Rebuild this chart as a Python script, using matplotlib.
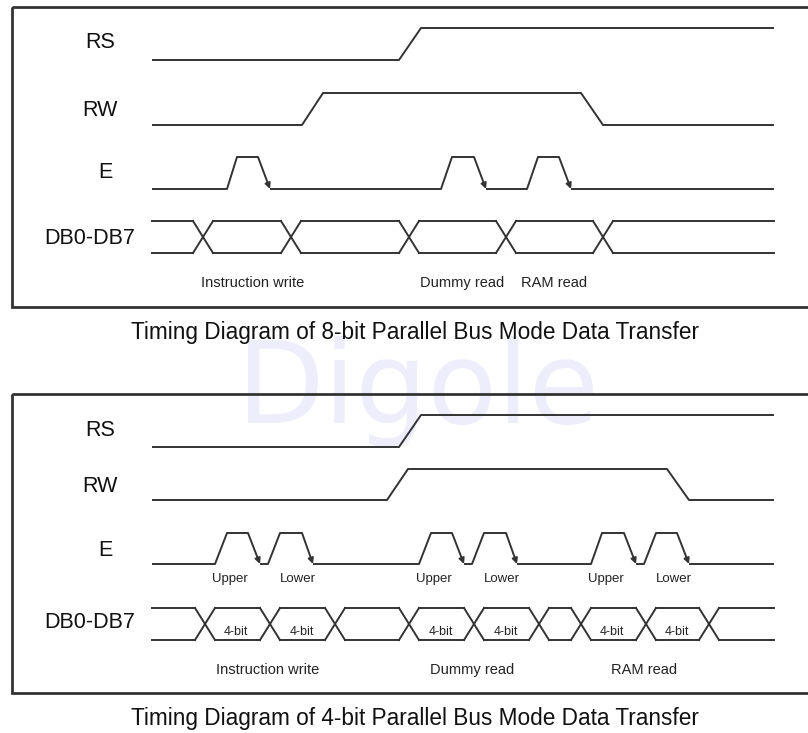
import matplotlib
matplotlib.use("Agg")
import matplotlib.pyplot as plt
from matplotlib.patches import Rectangle

plt.rcParams['font.family'] = ['Liberation Sans', 'DejaVu Sans']

# signal names
signals = ['RS', 'RW', 'E', 'DB0-DB7']

# 8-bit mode: edges as (start, end) of each transition
rs_8bit = [(399, 421)]
rw_8bit = [(302, 323), (581, 603)]
e_8bit = [(227, 237), (258, 270), (441, 452), (474, 486), (527, 538), (559, 571)]
db_8bit = [203, 291, 409, 506, 603]
ops_8bit = ['Instruction write', 'Dummy read', 'RAM read']
ops_8bit_x = [253, 462, 554]

# 4-bit mode
rs_4bit = [(399, 421)]
rw_4bit = [(387, 408), (667, 689)]
e_4bit = [(215, 227), (248, 260), (268, 280), (302, 313),
          (419, 431), (452, 464), (472, 484), (506, 517),
          (591, 602), (624, 636), (644, 656), (677, 689)]
db_4bit = [205, 270, 335, 409, 474, 539, 581, 646, 709]
nibble_labels = ['Upper', 'Lower'] * 3
nibble_x = [230, 298, 434, 502, 606, 674]
bit4_x = [236, 302, 441, 506, 612, 677]
ops_4bit = ['Instruction write', 'Dummy read', 'RAM read']
ops_4bit_x = [268, 472, 644]

titles = ['Timing Diagram of 8-bit Parallel Bus Mode Data Transfer',
          'Timing Diagram of 4-bit Parallel Bus Mode Data Transfer']

X0, X1 = 152, 774
LC = '#333333'
LW = 1.4


def wave(ax, edges, y_lo, y_hi, arrows=False):
    xs, ys = [X0], [y_lo]
    level = 0
    for t0, t1 in edges:
        ya = y_hi if level else y_lo
        yb = y_lo if level else y_hi
        xs.append(t0); ys.append(ya)
        if arrows and level == 1:
            # falling edge of E drawn as an arrow
            ax.plot(xs, ys, color=LC, lw=LW, solid_capstyle='butt')
            ax.annotate('', xy=(t1, yb), xytext=(t0, ya),
                        arrowprops=dict(arrowstyle='-|>', color=LC, lw=LW,
                                        mutation_scale=8, shrinkA=0, shrinkB=0))
            xs, ys = [t1], [yb]
        else:
            xs.append(t1); ys.append(yb)
        level = 1 - level
    xs.append(X1); ys.append(y_hi if level else y_lo)
    ax.plot(xs, ys, color=LC, lw=LW, solid_capstyle='butt')


def bus(ax, crossings, y_top, y_bot, w=10):
    prev = X0
    for c in crossings:
        ax.plot([prev, c - w], [y_top, y_top], color=LC, lw=LW)
        ax.plot([prev, c - w], [y_bot, y_bot], color=LC, lw=LW)
        ax.plot([c - w, c + w], [y_top, y_bot], color=LC, lw=LW)
        ax.plot([c - w, c + w], [y_bot, y_top], color=LC, lw=LW)
        prev = c + w
    ax.plot([prev, X1], [y_top, y_top], color=LC, lw=LW)
    ax.plot([prev, X1], [y_bot, y_bot], color=LC, lw=LW)


fig = plt.figure(figsize=(8.08, 7.33), dpi=100)
ax = fig.add_axes([0, 0, 1, 1])
ax.set_xlim(0, 808)
ax.set_ylim(733, 0)
ax.axis('off')

# watermark
ax.text(418, 423, 'Digole', fontsize=82, color='#ededfc', ha='center',
        va='baseline', zorder=0, family='DejaVu Sans')

# panel boxes
ax.add_patch(Rectangle((12, 7), 810, 300, fill=False, ec='#333333', lw=2))
ax.add_patch(Rectangle((12, 394), 810, 299, fill=False, ec='#333333', lw=2))

# ---- 8-bit panel ----
label_y8 = [43, 110, 173, 238]
label_x = [100, 100, 105, 90]
for s, lx, ly in zip(signals, label_x, label_y8):
    ax.text(lx, ly, s, fontsize=15.5, ha='center', va='center', color='#111111')
wave(ax, rs_8bit, 60, 28)
wave(ax, rw_8bit, 125, 93)
wave(ax, e_8bit, 189, 157, arrows=True)
bus(ax, db_8bit, 221, 253)
for t, x in zip(ops_8bit, ops_8bit_x):
    ax.text(x, 283, t, fontsize=10.5, ha='center', va='center', color='#222222')
ax.text(415, 333, titles[0], fontsize=16.3, ha='center', va='center', color='#111111')

# ---- 4-bit panel ----
label_y4 = [430, 487, 550, 623]
for s, lx, ly in zip(signals, label_x, label_y4):
    ax.text(lx, ly, s, fontsize=15.5, ha='center', va='center', color='#111111')
wave(ax, rs_4bit, 447, 415)
wave(ax, rw_4bit, 500, 469)
wave(ax, e_4bit, 564, 533, arrows=True)
bus(ax, db_4bit, 608, 640)
for t, x in zip(nibble_labels, nibble_x):
    ax.text(x, 579, t, fontsize=9.5, ha='center', va='center', color='#222222')
for x in bit4_x:
    ax.text(x, 632, '4-bit', fontsize=9, ha='center', va='center', color='#222222')
for t, x in zip(ops_4bit, ops_4bit_x):
    ax.text(x, 670, t, fontsize=10.5, ha='center', va='center', color='#222222')
ax.text(415, 718, titles[1], fontsize=16.3, ha='center', va='center', color='#111111')

fig.savefig('out.png', dpi=100)
